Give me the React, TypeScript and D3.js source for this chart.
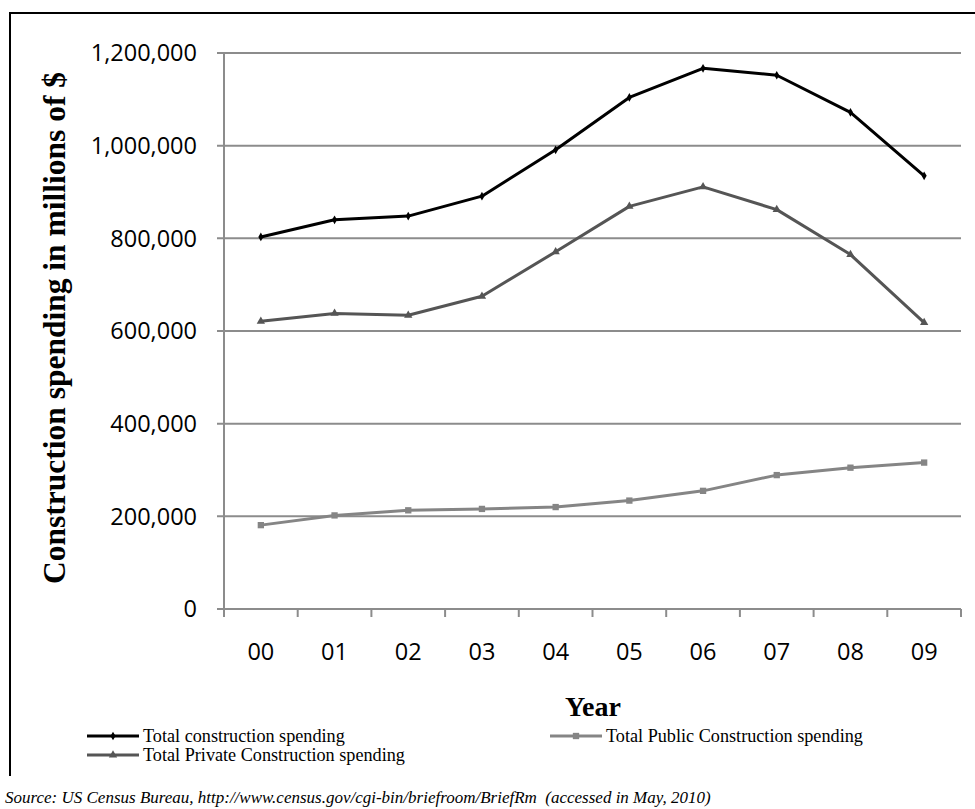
import React from "react";
import * as d3 from "d3";

// Construction spending by year (millions of $)
const years = ["00", "01", "02", "03", "04", "05", "06", "07", "08", "09"];
const totalSpending = [803000, 840000, 848000, 891000, 991000, 1104000, 1167000, 1152000, 1072000, 935000];
const privateSpending = [621000, 638000, 634000, 675000, 771000, 869000, 911000, 862000, 765000, 618000];
const publicSpending = [181000, 202000, 213000, 216000, 220000, 234000, 255000, 289000, 305000, 316000];
const yTicks = [0, 200000, 400000, 600000, 800000, 1000000, 1200000];

const W = 975;
const H = 809;
const plot = { left: 224, right: 961, top: 53, bottom: 609 };

const series = [
  { name: "Total construction spending", values: totalSpending, color: "#000000", symbol: d3.symbolDiamond, size: 22 },
  { name: "Total Private Construction spending", values: privateSpending, color: "#555555", symbol: d3.symbolTriangle, size: 30 },
  { name: "Total Public Construction spending", values: publicSpending, color: "#858585", symbol: d3.symbolSquare, size: 40 },
];

export default function App() {
  const x = d3.scaleBand<string>().domain(years).range([plot.left, plot.right]);
  const y = d3.scaleLinear().domain([0, 1200000]).range([plot.bottom, plot.top]);
  const fmt = d3.format(",");
  const cx = (d: string) => (x(d) ?? 0) + x.bandwidth() / 2;
  const line = d3
    .line<number>()
    .x((_, i) => cx(years[i]))
    .y((v) => y(v));

  const gridColor = "#8c8c8c";
  const tickFont = "'Open Sans', 'Liberation Sans', sans-serif";
  const serif = "'Liberation Serif', 'Times New Roman', serif";

  const boundaries = [...years.map((d) => x(d) ?? 0), plot.right];

  const legend = [
    { s: series[0], lx: 87, ly: 736 },
    { s: series[1], lx: 87, ly: 755 },
    { s: series[2], lx: 550, ly: 736 },
  ];

  return (
    <svg width={W} height={H} style={{ position: "absolute", left: 0, top: 0, background: "#fff" }}>
      <rect x={0} y={0} width={W} height={H} fill="#fff" />
      {/* frame */}
      <line x1={10} y1={13} x2={W} y2={13} stroke="#000" strokeWidth={2} />
      <line x1={10} y1={12} x2={10} y2={776} stroke="#000" strokeWidth={2} />

      {/* gridlines and y ticks */}
      {yTicks.map((t) => (
        <g key={t}>
          <line x1={plot.left - 7} x2={plot.right} y1={y(t)} y2={y(t)} stroke={gridColor} strokeWidth={2} />
          <text
            x={197}
            y={y(t)}
            dy="0.36em"
            textAnchor="end"
            fontFamily={tickFont}
            fontSize={23.5}
            fill="#000"
          >
            {fmt(t)}
          </text>
        </g>
      ))}

      {/* y axis */}
      <line x1={plot.left} x2={plot.left} y1={plot.top} y2={plot.bottom} stroke={gridColor} strokeWidth={2} />

      {/* x ticks */}
      {boundaries.map((b, i) => (
        <line key={i} x1={b} x2={b} y1={plot.bottom} y2={plot.bottom + 8} stroke={gridColor} strokeWidth={2} />
      ))}
      {years.map((d) => (
        <text key={d} x={cx(d)} y={660} textAnchor="middle" fontFamily={tickFont} fontSize={23.5} fill="#000">
          {d}
        </text>
      ))}

      {/* series */}
      {series.map((s) => (
        <g key={s.name}>
          <path d={line(s.values) ?? ""} fill="none" stroke={s.color} strokeWidth={3} strokeLinejoin="round" />
          {s.values.map((v, i) => (
            <path
              key={i}
              transform={`translate(${cx(years[i])},${y(v)})`}
              d={d3.symbol().type(s.symbol).size(s.size)() ?? ""}
              fill={s.color}
            />
          ))}
        </g>
      ))}

      {/* axis titles */}
      <text
        transform={`translate(65,328) rotate(-90)`}
        textAnchor="middle"
        fontFamily={serif}
        fontWeight="bold"
        fontSize={31.5}
        fill="#000"
      >
        Construction spending in millions of $
      </text>
      <text x={593} y={716} textAnchor="middle" fontFamily={serif} fontWeight="bold" fontSize={28} fill="#000">
        Year
      </text>

      {/* legend */}
      {legend.map(({ s, lx, ly }) => (
        <g key={s.name}>
          <line x1={lx} x2={lx + 52} y1={ly} y2={ly} stroke={s.color} strokeWidth={3} />
          <path
            transform={`translate(${lx + 26},${ly})`}
            d={d3.symbol().type(s.symbol).size(s.size)() ?? ""}
            fill={s.color}
          />
          <text x={lx + 56} y={ly + 6} fontFamily={serif} fontSize={18.2} fill="#000">
            {s.name}
          </text>
        </g>
      ))}

      {/* source note */}
      <text x={5} y={803} fontFamily={serif} fontStyle="italic" fontSize={17} fill="#000" style={{ whiteSpace: "pre" }}>
        {"Source: US Census Bureau, http://www.census.gov/cgi-bin/briefroom/BriefRm  (accessed in May, 2010)"}
      </text>
    </svg>
  );
}
